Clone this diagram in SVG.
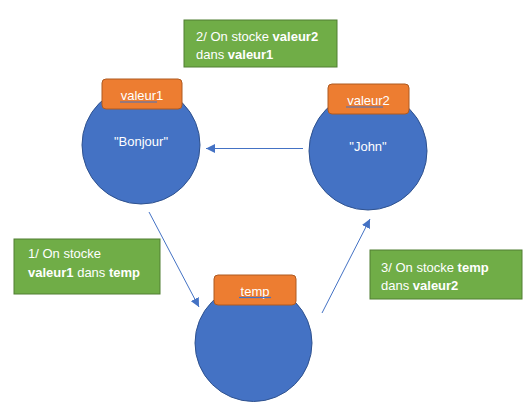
<svg xmlns="http://www.w3.org/2000/svg" width="531" height="409" viewBox="0 0 531 409">
<style>
text{font-family:"Liberation Sans","Open Sans",Arial,sans-serif;fill:#fff;font-size:13px}
.c{text-anchor:middle}
.b{font-weight:bold}
.circ{fill:#4472C4;stroke:#2F528F;stroke-width:1}
.lab{fill:#ED7D31;stroke:#AE5A21;stroke-width:1}
.note{fill:#70AD47;stroke:#507E32;stroke-width:1}
.ul{stroke:#4472C4;stroke-width:1.2}
.conn{stroke:#4472C4;stroke-width:1;fill:none;marker-end:url(#ah)}
</style>
<defs>
<marker id="ah" viewBox="0 0 10 10" refX="10" refY="5" markerWidth="9" markerHeight="9" markerUnits="userSpaceOnUse" orient="auto">
<path d="M0,0 L10,5 L0,10 z" fill="#4472C4"/>
</marker>
</defs>
<rect width="531" height="409" fill="#fff"/>
<g id="connectors">
<line class="conn" x1="303" y1="148.5" x2="206" y2="148.5"/>
<line class="conn" x1="149" y1="212" x2="199" y2="307"/>
<line class="conn" x1="322" y1="313" x2="370" y2="219"/>
</g>
<g id="valeur1">
<circle class="circ" cx="141" cy="145" r="59"/>
<rect class="lab" x="102" y="79" width="80" height="30" rx="4"/>
<text class="c" x="142" y="100">valeur1</text>
<line class="ul" x1="120" y1="102" x2="157" y2="102"/>
<text class="c" x="141" y="146">"Bonjour"</text>
</g>
<g id="valeur2">
<circle class="circ" cx="368" cy="151" r="59"/>
<rect class="lab" x="328" y="84" width="81" height="30" rx="4"/>
<text class="c" x="368.5" y="105">valeur2</text>
<line class="ul" x1="346" y1="107" x2="383" y2="107"/>
<text class="c" x="368" y="151">"John"</text>
</g>
<g id="temp">
<circle class="circ" cx="253.5" cy="343" r="58.5"/>
<rect class="lab" x="214" y="275" width="82" height="30" rx="4"/>
<text class="c" x="255" y="296">temp</text>
<line class="ul" x1="239" y1="297.5" x2="271" y2="297.5"/>
</g>
<g id="note2">
<rect class="note" x="184" y="20" width="153" height="47"/>
<text x="196" y="41">2/ On stocke <tspan class="b">valeur2</tspan></text>
<text x="196" y="59">dans <tspan class="b">valeur1</tspan></text>
</g>
<g id="note1">
<rect class="note" x="14" y="239" width="146" height="55"/>
<text x="28" y="258">1/ On stocke</text>
<text x="28" y="277"><tspan class="b">valeur1</tspan> dans <tspan class="b">temp</tspan></text>
</g>
<g id="note3">
<rect class="note" x="370" y="250" width="152" height="49"/>
<text x="381" y="272">3/ On stocke <tspan class="b">temp</tspan></text>
<text x="381" y="290">dans <tspan class="b">valeur2</tspan></text>
</g>
</svg>
